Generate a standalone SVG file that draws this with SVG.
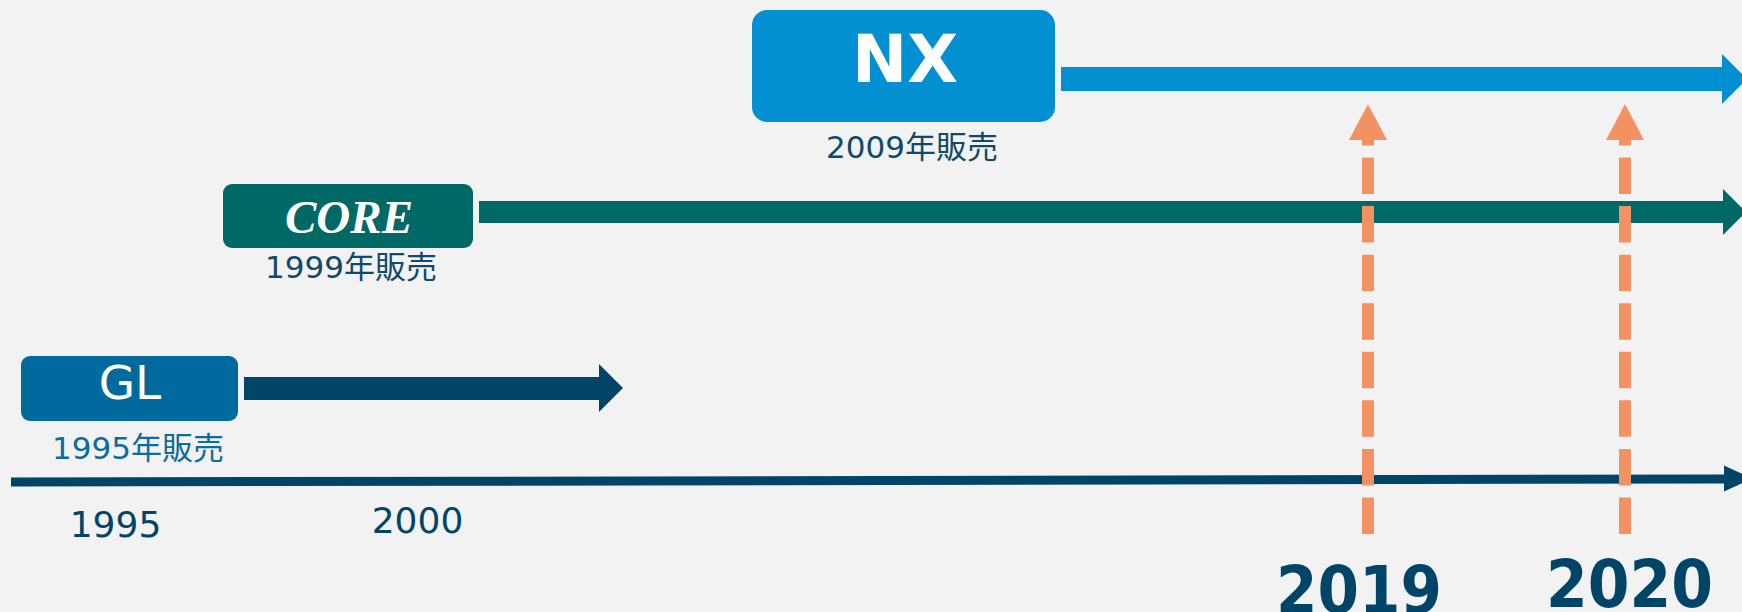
<svg xmlns="http://www.w3.org/2000/svg" width="1742" height="612" viewBox="0 0 1742 612">
  <style>
    .sub { font-family: "DejaVu Sans", "Noto Sans CJK JP", sans-serif; font-size: 31px; fill: #0d4a6c; text-anchor: middle; }
    .axis { font-family: "DejaVu Sans", sans-serif; font-size: 36px; fill: #004467; text-anchor: middle; }
    .year { font-family: "DejaVu Sans", sans-serif; font-size: 66px; font-weight: bold; fill: #004467; text-anchor: middle; }
    .dash { stroke: #F29263; stroke-width: 12; stroke-dasharray: 36.5 12.07; fill: none; }
    .head { fill: #F29263; }
  </style>
  <rect x="0" y="0" width="1742" height="612" fill="#F2F2F2"/>

  <g id="connectors">
    <polygon id="gl-arrow" fill="#004467" points="244,377 599,377 599,364 623,388 599,412 599,400 244,400"/>
    <polygon id="core-arrow" fill="#006865" points="479,201 1723,201 1723,189 1746,212 1723,235 1723,223 479,223"/>
    <polygon id="nx-arrow" fill="#0290D2" points="1061,67 1722,67 1722,54 1747,79 1722,104 1722,91 1061,91"/>
    <polygon id="timeline" fill="#004467" points="11,477.5 1724,474.5 1724,465.5 1752,478.5 1724,491.5 1724,483.5 11,486.5"/>
    <g id="marker-2019">
      <line class="dash" x1="1368" y1="534" x2="1368" y2="140"/>
      <polygon class="head" points="1349,140 1368,104 1387,140"/>
    </g>
    <g id="marker-2020">
      <line class="dash" x1="1625" y1="534" x2="1625" y2="140"/>
      <polygon class="head" points="1606,140 1625,104 1644,140"/>
    </g>
  </g>

  <g id="node-nx">
    <rect x="752" y="10" width="303" height="112" rx="15" fill="#0290D2"/>
    <text x="905" y="82" font-family="DejaVu Sans, sans-serif" font-size="66" font-weight="bold" fill="#FFFFFF" text-anchor="middle">NX</text>
    <text class="sub" x="912" y="158">2009年販売</text>
  </g>

  <g id="node-core">
    <rect x="223" y="184" width="250" height="64" rx="9" fill="#006865"/>
    <text x="349" y="233" font-family="Liberation Serif, serif" font-size="47" font-weight="bold" font-style="italic" fill="#FFFFFF" text-anchor="middle">CORE</text>
    <text class="sub" x="351" y="278">1999年販売</text>
  </g>

  <g id="node-gl">
    <rect x="21" y="356" width="217" height="65" rx="9" fill="#006A9E"/>
    <text x="130" y="399" font-family="DejaVu Sans, sans-serif" font-size="47" fill="#FFFFFF" text-anchor="middle">GL</text>
    <text class="sub" x="138" y="459" style="fill:#0b6c9f">1995年販売</text>
  </g>

  <g id="axis-labels">
    <text class="axis" x="115.5" y="537">1995</text>
    <text class="axis" x="417.5" y="533">2000</text>
    <text class="year" x="1359" y="613" textLength="166" lengthAdjust="spacingAndGlyphs">2019</text>
    <text class="year" x="1629.5" y="607" textLength="167" lengthAdjust="spacingAndGlyphs">2020</text>
  </g>
</svg>
